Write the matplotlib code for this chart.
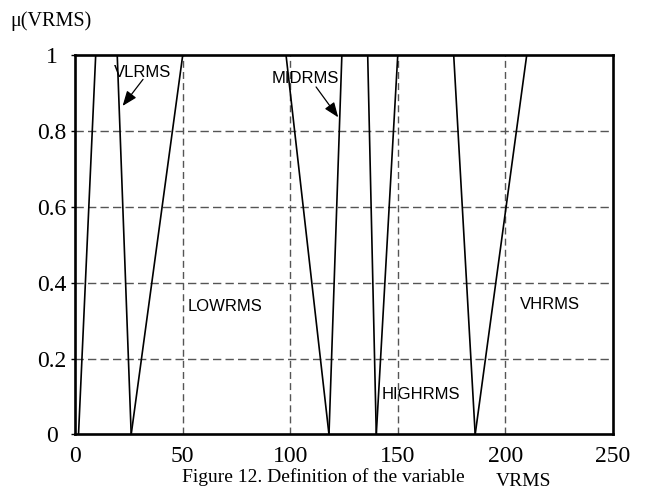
import matplotlib
matplotlib.use("Agg")
import matplotlib.pyplot as plt

# Membership function breakpoints for the VRMS linguistic variable
vl_x = [1.5, 9.5, 19.5, 26.0]
vl_y = [0, 1, 1, 0]
low_x = [26.0, 50.0, 98.0, 118.0]
low_y = [0, 1, 1, 0]
mid_x = [118.0, 124.0, 136.0, 140.0]
mid_y = [0, 1, 1, 0]
high_x = [140.0, 150.0, 176.0, 186.0]
high_y = [0, 1, 1, 0]
vh_x = [186.0, 210.0, 250.0]
vh_y = [0, 1, 1]

x_ticks = [0, 50, 100, 150, 200, 250]
y_ticks = [0, 0.2, 0.4, 0.6, 0.8, 1]
y_tick_labels = ["0", "0.2", "0.4", "0.6", "0.8", "1"]

serif = ["Liberation Serif", "DejaVu Serif"]
sans = ["Liberation Sans", "DejaVu Sans"]

fig = plt.figure(figsize=(6.53, 4.93), dpi=100)
ax = fig.add_axes([0.1153, 0.1187, 0.8231, 0.7704])

for xs, ys in [(vl_x, vl_y), (low_x, low_y), (mid_x, mid_y),
               (high_x, high_y), (vh_x, vh_y)]:
    ax.plot(xs, ys, color="black", lw=1.2, solid_joinstyle="miter")

ax.set_xlim(0, 250)
ax.set_ylim(0, 1)

# dashed grid
for gx in [50, 100, 150, 200]:
    ax.axvline(gx, color="#555555", lw=1.0, dashes=(5, 3), zorder=0)
for gy in [0.2, 0.4, 0.6, 0.8]:
    ax.axhline(gy, color="#555555", lw=1.0, dashes=(6, 3), zorder=0)

for s in ax.spines.values():
    s.set_linewidth(1.9)

ax.set_xticks(x_ticks)
ax.set_xticklabels([str(v) for v in x_ticks], fontfamily=serif, fontsize=17)
ax.set_yticks(y_ticks)
ax.set_yticklabels(y_tick_labels, fontfamily=serif, fontsize=17)
ax.tick_params(axis="x", length=0, pad=8)
ax.tick_params(axis="y", length=3, width=1, pad=14)
for lab in ax.get_yticklabels():
    lab.set_horizontalalignment("center")

# set names
lab_kw = dict(fontfamily=sans, fontsize=12, color="black")
ax.text(31.5, 0.954, "VLRMS", ha="center", va="center", **lab_kw)
ax.text(106.8, 0.938, "MIDRMS", ha="center", va="center", **lab_kw)
ax.text(52.4, 0.336, "LOWRMS", ha="left", va="center", **lab_kw)
ax.text(142.5, 0.104, "HIGHRMS", ha="left", va="center", **lab_kw)
ax.text(206.8, 0.341, "VHRMS", ha="left", va="center", **lab_kw)

arrow_kw = dict(arrowstyle="-|>,head_length=0.9,head_width=0.35",
                color="black", lw=0.9, shrinkA=0, shrinkB=0)
ax.annotate("", xy=(22.0, 0.865), xytext=(31.5, 0.935), arrowprops=arrow_kw)
ax.annotate("", xy=(122.3, 0.835), xytext=(112.0, 0.915), arrowprops=arrow_kw)

fig.text(0.078, 0.957, "\u03bc(VRMS)", ha="center", va="center",
         fontfamily=serif, fontsize=14.5)
fig.text(0.2787, 0.0325, "Figure 12. Definition of the variable",
         ha="left", va="center", fontfamily=serif, fontsize=14)
fig.text(0.8017, 0.0229, "VRMS", ha="center", va="center",
         fontfamily=serif, fontsize=14)

fig.savefig("out.png", dpi=100)
